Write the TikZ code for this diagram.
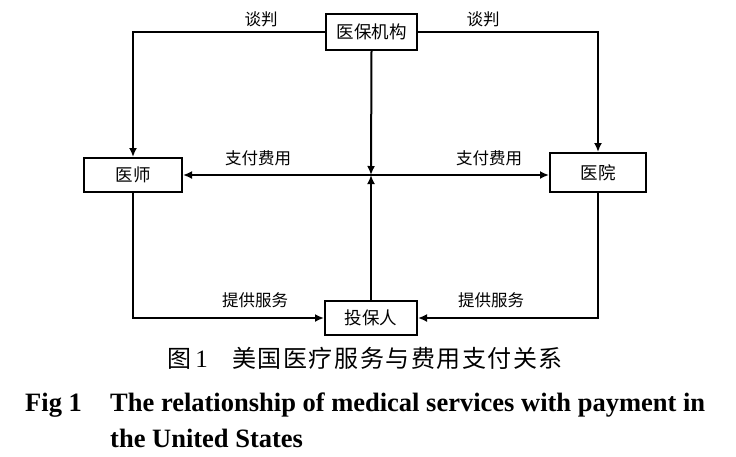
\documentclass[tikz,border=0pt]{standalone}
\usepackage{fontspec}
\setmainfont{Liberation Serif}
\newfontfamily\cjk{Noto Sans CJK SC}
\newfontfamily\cjkcap[LetterSpace=6.5]{Noto Sans CJK SC}
\usetikzlibrary{arrows.meta}
\tikzset{
  box/.style={draw, line width=2pt, minimum height=34pt, inner sep=0pt, font=\cjk\fontsize{17.5}{17.5}\selectfont},
  conn/.style={line width=2pt, -{Latex[length=9pt,width=8pt]}},
  lbl/.style={font=\cjk\fontsize{16.5}{16.5}\selectfont, inner sep=0pt},
  eng/.style={inner sep=0pt, anchor=base west, font=\bfseries\fontsize{26.5}{26.5}\selectfont}
}
\begin{document}
\begin{tikzpicture}[x=1pt,y=-1pt]
\useasboundingbox (0,0) rectangle (736,456);
\node[box, minimum width=91pt, minimum height=36pt] (jg) at (371.5,32) {医保机构};
\node[box, minimum width=98pt] (ys) at (133,175) {医师};
\node[box, minimum width=96pt, minimum height=39pt] (yy) at (598,172.5) {医院};
\node[box, minimum width=92pt] (tb) at (371,318) {投保人};
\coordinate (c) at (371,175);
\draw[conn] (jg.west) -| (ys.north);
\draw[conn] (jg.east) -| (yy.north);
\draw[conn] (jg.south) -- (c);
\draw[conn] (tb.north) -- (c);
\draw[conn] (c) -- (ys.east);
\draw[conn] (c) -- (c -| yy.west);
\draw[conn] (ys.south) |- (tb.west);
\draw[conn] (yy.south) |- (tb.east);
\node[lbl] (l1) at (261,19) {谈判};
\node[lbl] (l2) at (483,19) {谈判};
\node[lbl] (l3) at (258,158) {支付费用};
\node[lbl] (l4) at (489,158) {支付费用};
\node[lbl] (l5) at (255,300) {提供服务};
\node[lbl] (l6) at (491,300) {提供服务};
\node[inner sep=0pt, anchor=west] (cap) at (167,358) {\makebox[65pt][l]{\cjk\fontsize{24}{24}\selectfont 图{\rmfamily\fontsize{25}{25}\selectfont\,1}}\cjkcap\fontsize{24}{24}\selectfont 美国医疗服务与费用支付关系};
\node[eng] (fig) at (25,411) {Fig 1};
\node[eng] (t1) at (110,411) {The relationship of medical services with payment in};
\node[eng] (t2) at (110,447) {the United States};
\end{tikzpicture}
\end{document}
